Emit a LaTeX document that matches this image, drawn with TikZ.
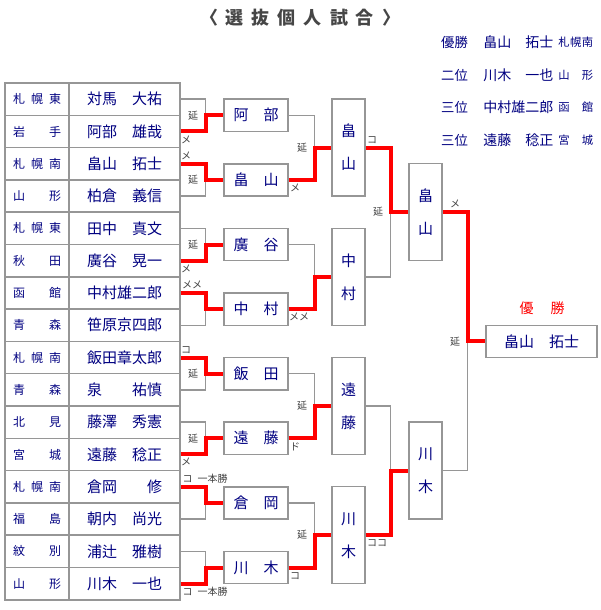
\documentclass[tikz,border=0pt]{standalone}
\usepackage{fontspec}
\usepackage{xcolor}
\usepackage{tikz}
\newfontfamily\jp{Noto Sans CJK JP}
\definecolor{namenavy}{RGB}{0,0,128}
\definecolor{linegray}{RGB}{150,150,150}
\definecolor{titlegray}{RGB}{70,70,70}
\definecolor{winred}{RGB}{255,0,0}

\begin{document}
\begin{tikzpicture}[x=0.75pt,y=-0.75pt,font=\jp,
  cell/.style={draw=linegray,line width=1.1pt,minimum height=24.2pt,inner sep=0pt,text=namenavy},
  namefont/.style={font=\jp\fontsize{11.25}{12}\selectfont},
  vbox/.style={cell,minimum width=24.75pt,minimum height=72.7pt,align=center,font=\jp\fontsize{11.25}{24.75}\selectfont},
  tie/.style={draw=linegray,line width=1.1pt},
  win/.style={draw=winred,line width=3pt},
  lbl/.style={font=\jp\fontsize{7.5}{8}\selectfont,text=black!75,inner sep=0pt}]
  \useasboundingbox (0,0) rectangle (600,610);
  \node[font=\jp\bfseries\fontsize{13.5}{14}\selectfont,text=titlegray] (title) at (300,18)
    {\makebox[150pt][s]{〈\hfill 選\hfill 抜\hfill 個\hfill 人\hfill 試\hfill 合\hfill 〉}};
  \foreach \r/\rk/\nm/\sc/\ry in {1/優勝/畠山　拓士/{札\hfill 幌\hfill 南}/42,
      2/二位/川木　一也/{山\hfill 形}/75, 3/三位/中村雄二郎/{函\hfill 館}/107,
      4/三位/遠藤　稔正/{宮\hfill 城}/140}
    {\node[inner sep=0pt,text=namenavy,font=\jp\fontsize{10}{10}\selectfont] (rank\r) at (454.5,\ry) {\rk};
     \node[anchor=west,inner sep=0pt,text=namenavy,font=\jp\fontsize{10.5}{11}\selectfont] (res\r) at (483,\ry) {\nm};
     \node[anchor=west,inner sep=0pt,text=namenavy,font=\jp\fontsize{8.5}{9}\selectfont] (from\r) at (558,\ry)
       {\makebox[26.25pt][s]{\sc}};}
  \foreach \i/\sch/\nm in {1/{札\hfill 幌\hfill 東}/対馬　大祐, 2/{岩\hfill 手}/阿部　雄哉,
      3/{札\hfill 幌\hfill 南}/畠山　拓士, 4/{山\hfill 形}/柏倉　義信,
      5/{札\hfill 幌\hfill 東}/田中　真文, 6/{秋\hfill 田}/廣谷　晃一,
      7/{函\hfill 館}/中村雄二郎, 8/{青\hfill 森}/笹原京四郎,
      9/{札\hfill 幌\hfill 南}/飯田章太郎, 10/{青\hfill 森}/泉　　祐慎,
      11/{北\hfill 見}/藤澤　秀憲, 12/{宮\hfill 城}/遠藤　稔正,
      13/{札\hfill 幌\hfill 南}/倉岡　　修, 14/{福\hfill 島}/朝内　尚光,
      15/{紋\hfill 別}/浦辻　雅樹, 16/{山\hfill 形}/川木　一也}
    {\pgfmathsetmacro\ry{83+(\i-0.5)*32.3}
     \node[cell,minimum width=48pt,font=\jp\fontsize{9}{9}\selectfont] (s\i) at (37,\ry) {\makebox[36pt][s]{\sch}};
     \node[cell,minimum width=83.25pt,namefont] (p\i) at (124.5,\ry) {\nm};}
  \foreach \k/\nm in {1/阿　部,2/畠　山,3/廣　谷,4/中　村,5/飯　田,6/遠　藤,7/倉　岡,8/川　木}
    {\pgfmathsetmacro\ry{83+(2*\k-1)*32.3}
     \node[cell,minimum width=48pt,namefont] (b\k) at (256,\ry) {\nm};}
  \foreach \j/\nm in {1/畠\\山,2/中\\村,3/遠\\藤,4/川\\木}
    {\pgfmathsetmacro\ry{83+(4*\j-2)*32.3}
     \node[vbox] (c\j) at (348.5,\ry) {\nm};}
  \foreach \j/\nm in {1/畠\\山,2/川\\木}
    {\pgfmathsetmacro\ry{83+(8*\j-4)*32.3}
     \node[vbox] (d\j) at (425.5,\ry) {\nm};}
  \node[cell,minimum width=83.25pt,minimum height=24pt,namefont] (fin) at (541.5,341.4) {畠山　拓士};
  \node[inner sep=0pt,text=winred,font=\jp\fontsize{10.5}{11}\selectfont] (champ) at (542,308)
    {\makebox[33.75pt][s]{優\hfill 勝}};
  \foreach \a/\b in {1/2,3/4,5/6,7/8,9/10,11/12,13/14,15/16}
    {\draw[tie] (p\a.east) -- ++(25,0) |- (p\b.east);}
  \foreach \a/\b in {1/2,3/4,5/6,7/8}
    {\draw[tie] (b\a.east) -- ++(26,0) |- (b\b.east);}
  \draw[tie] (c1.east) -- ++(25,0) |- (c2.east);
  \draw[tie] (c3.east) -- ++(25,0) |- (c4.east);
  \draw[tie] (d1.east) -- ++(25,0) |- (d2.east);
  \foreach \w/\k in {2/1,3/2,6/3,7/4,9/5,12/6,13/7,16/8}
    {\draw[win] (p\w.east) -- ++(25,0) |- (b\k.west);}
  \foreach \w/\j in {2/1,4/2,6/3,8/4}
    {\draw[win] (b\w.east) -- ++(26,0) |- (c\j.west);}
  \draw[win] (c1.east) -- ++(25,0) |- (d1.west);
  \draw[win] (c4.east) -- ++(25,0) |- (d2.west);
  \draw[win] (d1.east) -- ++(25,0) |- (fin.west);
  \foreach \x/\y/\t [count=\n] in {193/115.3/延, 186/140/メ, 186/156/メ, 193/179.9/延,
      193/244.5/延, 186/269/メ, 192/285/メメ, 186/350/コ, 193/373.7/延, 193/438.3/延,
      186/462/メ, 205/479/コ\hspace{0.5em}一本勝, 205/592/コ\hspace{0.5em}一本勝,
      302/147.6/延, 295/188/メ, 299/317/メメ, 302/406/延, 295/447/ド, 302/535.2/延,
      295/576/コ, 372/140/コ, 378/212.2/延, 377/543/ココ, 455/204/メ, 455/341.4/延}
    {\node[lbl] (note\n) at (\x,\y) {\t};}
\end{tikzpicture}
\end{document}
